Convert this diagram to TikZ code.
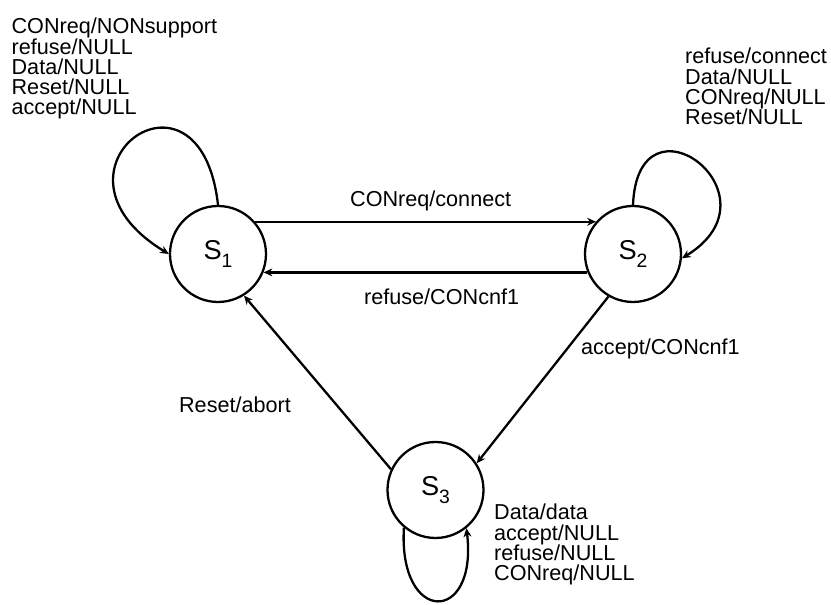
\documentclass[tikz,border=0pt]{standalone}
\usepackage{fontspec}
\setmainfont{Liberation Sans}
\usetikzlibrary{arrows.meta,positioning}

\newcommand{\stname}[1]{S\raisebox{-4.5pt}{\fontsize{11}{11}\selectfont #1}}

\begin{document}
\begin{tikzpicture}[scale=2,line width=1.3pt,>={Stealth[length=5pt,width=4.5pt]},
    state/.style={circle,draw,minimum size=1.92cm,inner sep=0pt,font=\fontsize{15.5}{15.5}\selectfont},
    lbl/.style={font=\fontsize{12.3}{11.5}\selectfont,inner sep=0pt,align=left}]
    \useasboundingbox (0,0) rectangle (8.31,6.05);

    \node[state] (state1) at (2.18,3.51) {\stname{1}};
    \node[state] (state2) at (6.33,3.51) {\stname{2}};
    \node[state] (state3) at (4.355,1.15) {\stname{3}};

    % transitions between states
    \draw[->] (state1.41) -- (state2.139);
    \draw[->] (state2.-158) -- (state1.-22);
    \draw[->] (state2.240) -- (state3.33);
    \draw[->] (state3.155) -- (state1.-58);

    % self loops
    \draw[->] (state1.90) .. controls (2.00,5.60) and (0.30,4.35) .. (state1.180);
    \draw[->] (state2.90) .. controls (6.38,5.20) and (7.85,4.10) .. (state2.-5);
    \draw[->] (state3.-130) .. controls (3.98,-0.20) and (4.78,-0.20) .. (state3.-51);

    % transition labels
    \node[lbl,anchor=base west] (trans12) at (3.49,3.98) {CONreq/connect};
    \node[lbl,anchor=base west] (trans21) at (3.63,3.00) {refuse/CONcnf1};
    \node[lbl,anchor=base west] (trans23) at (5.80,2.50) {accept/CONcnf1};
    \node[lbl,anchor=base west] (trans31) at (1.78,1.92) {Reset/abort};

    \node[lbl,anchor=north west] (looplabel1) at (0.105,5.88)
        {CONreq/NONsupport\\refuse/NULL\\Data/NULL\\Reset/NULL\\accept/NULL};
    \node[lbl,anchor=north west] (looplabel2) at (6.84,5.58)
        {refuse/connect\\Data/NULL\\CONreq/NULL\\Reset/NULL};
    \node[lbl,anchor=north west] (looplabel3) at (4.93,1.02)
        {Data/data\\accept/NULL\\refuse/NULL\\CONreq/NULL};
\end{tikzpicture}
\end{document}
